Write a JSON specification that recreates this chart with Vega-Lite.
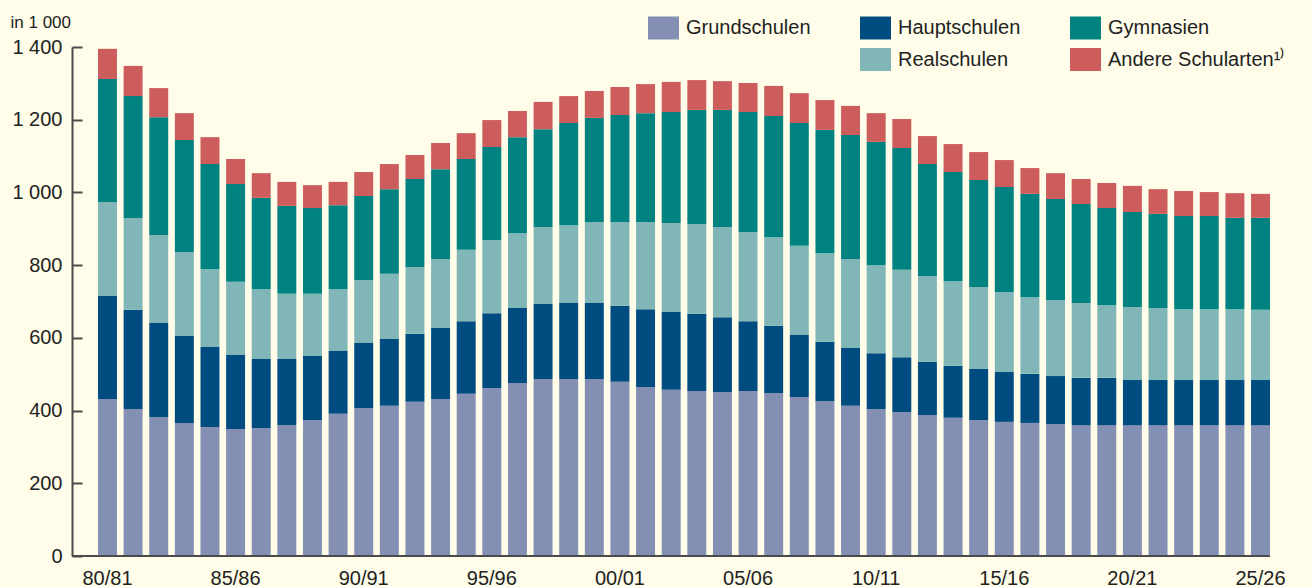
{
  "$schema": "https://vega.github.io/schema/vega-lite/v6.json",
  "width": 1198,
  "height": 509,
  "autosize": {"type": "none"},
  "padding": {"left": 72, "top": 47, "right": 42, "bottom": 31},
  "background": "#FFFDE9",
  "config": {"font": "Liberation Sans", "view": {"stroke": null}},
  "layer": [
    {
      "data": {
        "values": [
          {"Jahr": "80/81", "Grundschulen": 432, "Hauptschulen": 283, "Realschulen": 259, "Gymnasien": 338, "Andere": 83},
          {"Jahr": "81/82", "Grundschulen": 404, "Hauptschulen": 273, "Realschulen": 253, "Gymnasien": 335, "Andere": 83},
          {"Jahr": "82/83", "Grundschulen": 382, "Hauptschulen": 259, "Realschulen": 242, "Gymnasien": 324, "Andere": 80},
          {"Jahr": "83/84", "Grundschulen": 366, "Hauptschulen": 239, "Realschulen": 231, "Gymnasien": 308, "Andere": 74},
          {"Jahr": "84/85", "Grundschulen": 355, "Hauptschulen": 220, "Realschulen": 214, "Gymnasien": 289, "Andere": 74},
          {"Jahr": "85/86", "Grundschulen": 349, "Hauptschulen": 204, "Realschulen": 201, "Gymnasien": 269, "Andere": 69},
          {"Jahr": "86/87", "Grundschulen": 352, "Hauptschulen": 190, "Realschulen": 192, "Gymnasien": 251, "Andere": 68},
          {"Jahr": "87/88", "Grundschulen": 360, "Hauptschulen": 182, "Realschulen": 179, "Gymnasien": 242, "Andere": 66},
          {"Jahr": "88/89", "Grundschulen": 374, "Hauptschulen": 176, "Realschulen": 171, "Gymnasien": 236, "Andere": 63},
          {"Jahr": "89/90", "Grundschulen": 391, "Hauptschulen": 173, "Realschulen": 170, "Gymnasien": 231, "Andere": 64},
          {"Jahr": "90/91", "Grundschulen": 407, "Hauptschulen": 179, "Realschulen": 173, "Gymnasien": 231, "Andere": 66},
          {"Jahr": "91/92", "Grundschulen": 413, "Hauptschulen": 184, "Realschulen": 179, "Gymnasien": 233, "Andere": 69},
          {"Jahr": "92/93", "Grundschulen": 424, "Hauptschulen": 187, "Realschulen": 184, "Gymnasien": 242, "Andere": 66},
          {"Jahr": "93/94", "Grundschulen": 432, "Hauptschulen": 195, "Realschulen": 190, "Gymnasien": 247, "Andere": 72},
          {"Jahr": "94/95", "Grundschulen": 446, "Hauptschulen": 200, "Realschulen": 196, "Gymnasien": 250, "Andere": 71},
          {"Jahr": "95/96", "Grundschulen": 462, "Hauptschulen": 206, "Realschulen": 201, "Gymnasien": 256, "Andere": 74},
          {"Jahr": "96/97", "Grundschulen": 476, "Hauptschulen": 206, "Realschulen": 206, "Gymnasien": 264, "Andere": 72},
          {"Jahr": "97/98", "Grundschulen": 487, "Hauptschulen": 206, "Realschulen": 212, "Gymnasien": 269, "Andere": 75},
          {"Jahr": "98/99", "Grundschulen": 487, "Hauptschulen": 209, "Realschulen": 214, "Gymnasien": 281, "Andere": 74},
          {"Jahr": "99/00", "Grundschulen": 487, "Hauptschulen": 209, "Realschulen": 223, "Gymnasien": 286, "Andere": 74},
          {"Jahr": "00/01", "Grundschulen": 479, "Hauptschulen": 209, "Realschulen": 231, "Gymnasien": 294, "Andere": 77},
          {"Jahr": "01/02", "Grundschulen": 465, "Hauptschulen": 214, "Realschulen": 240, "Gymnasien": 299, "Andere": 80},
          {"Jahr": "02/03", "Grundschulen": 457, "Hauptschulen": 214, "Realschulen": 245, "Gymnasien": 305, "Andere": 83},
          {"Jahr": "03/04", "Grundschulen": 454, "Hauptschulen": 212, "Realschulen": 247, "Gymnasien": 314, "Andere": 82},
          {"Jahr": "04/05", "Grundschulen": 451, "Hauptschulen": 206, "Realschulen": 248, "Gymnasien": 322, "Andere": 79},
          {"Jahr": "05/06", "Grundschulen": 454, "Hauptschulen": 192, "Realschulen": 245, "Gymnasien": 330, "Andere": 80},
          {"Jahr": "06/07", "Grundschulen": 448, "Hauptschulen": 185, "Realschulen": 244, "Gymnasien": 333, "Andere": 83},
          {"Jahr": "07/08", "Grundschulen": 437, "Hauptschulen": 171, "Realschulen": 245, "Gymnasien": 338, "Andere": 82},
          {"Jahr": "08/09", "Grundschulen": 426, "Hauptschulen": 163, "Realschulen": 244, "Gymnasien": 339, "Andere": 82},
          {"Jahr": "09/10", "Grundschulen": 413, "Hauptschulen": 159, "Realschulen": 245, "Gymnasien": 341, "Andere": 80},
          {"Jahr": "10/11", "Grundschulen": 404, "Hauptschulen": 154, "Realschulen": 242, "Gymnasien": 339, "Andere": 79},
          {"Jahr": "11/12", "Grundschulen": 396, "Hauptschulen": 151, "Realschulen": 240, "Gymnasien": 335, "Andere": 80},
          {"Jahr": "12/13", "Grundschulen": 388, "Hauptschulen": 146, "Realschulen": 236, "Gymnasien": 308, "Andere": 77},
          {"Jahr": "13/14", "Grundschulen": 380, "Hauptschulen": 143, "Realschulen": 233, "Gymnasien": 300, "Andere": 77},
          {"Jahr": "14/15", "Grundschulen": 374, "Hauptschulen": 140, "Realschulen": 226, "Gymnasien": 294, "Andere": 77},
          {"Jahr": "15/16", "Grundschulen": 369, "Hauptschulen": 137, "Realschulen": 220, "Gymnasien": 289, "Andere": 74},
          {"Jahr": "16/17", "Grundschulen": 366, "Hauptschulen": 135, "Realschulen": 211, "Gymnasien": 284, "Andere": 71},
          {"Jahr": "17/18", "Grundschulen": 363, "Hauptschulen": 132, "Realschulen": 209, "Gymnasien": 278, "Andere": 71},
          {"Jahr": "18/19", "Grundschulen": 360, "Hauptschulen": 130, "Realschulen": 206, "Gymnasien": 272, "Andere": 69},
          {"Jahr": "19/20", "Grundschulen": 360, "Hauptschulen": 130, "Realschulen": 200, "Gymnasien": 267, "Andere": 69},
          {"Jahr": "20/21", "Grundschulen": 360, "Hauptschulen": 124, "Realschulen": 201, "Gymnasien": 261, "Andere": 72},
          {"Jahr": "21/22", "Grundschulen": 360, "Hauptschulen": 124, "Realschulen": 198, "Gymnasien": 259, "Andere": 68},
          {"Jahr": "22/23", "Grundschulen": 360, "Hauptschulen": 124, "Realschulen": 195, "Gymnasien": 256, "Andere": 69},
          {"Jahr": "23/24", "Grundschulen": 360, "Hauptschulen": 124, "Realschulen": 195, "Gymnasien": 256, "Andere": 66},
          {"Jahr": "24/25", "Grundschulen": 360, "Hauptschulen": 124, "Realschulen": 195, "Gymnasien": 251, "Andere": 68},
          {"Jahr": "25/26", "Grundschulen": 360, "Hauptschulen": 124, "Realschulen": 193, "Gymnasien": 253, "Andere": 66}
        ]
      },
      "transform": [
        {"fold": ["Grundschulen", "Hauptschulen", "Realschulen", "Gymnasien", "Andere"], "as": ["Schulart", "Anzahl"]},
        {
          "lookup": "Schulart",
          "from": {
            "data": {
              "values": [
                {"Schulart": "Grundschulen", "Rang": 1},
                {"Schulart": "Hauptschulen", "Rang": 2},
                {"Schulart": "Realschulen", "Rang": 3},
                {"Schulart": "Gymnasien", "Rang": 4},
                {"Schulart": "Andere", "Rang": 5}
              ]
            },
            "key": "Schulart",
            "fields": ["Rang"]
          }
        }
      ],
      "mark": {"type": "bar"},
      "encoding": {
        "x": {
          "field": "Jahr",
          "type": "ordinal",
          "sort": null,
          "scale": {"range": [26, 1198], "paddingInner": 0.26, "paddingOuter": 0},
          "axis": {
            "title": null,
            "domain": false,
            "ticks": false,
            "labelAngle": 0,
            "labelFontSize": 20,
            "labelColor": "#222222",
            "labelPadding": 12,
            "values": ["80/81", "85/86", "90/91", "95/96", "00/01", "05/06", "10/11", "15/16", "20/21", "25/26"]
          }
        },
        "y": {
          "field": "Anzahl",
          "type": "quantitative",
          "stack": "zero",
          "scale": {"domain": [0, 1400], "nice": false},
          "axis": {
            "values": [0, 200, 400, 600, 800, 1000, 1200, 1400],
            "labelExpr": "replace(format(datum.value, ','), ',', ' ')",
            "grid": false,
            "domainColor": "#4a4a4a",
            "domainWidth": 2,
            "tickColor": "#4a4a4a",
            "tickWidth": 2,
            "tickSize": -10,
            "labelPadding": 20,
            "labelFontSize": 20,
            "labelColor": "#222222",
            "title": "in 1 000",
            "titleAngle": 0,
            "titleAlign": "left",
            "titleBaseline": "alphabetic",
            "titleX": -62,
            "titleY": -20,
            "titleFontSize": 17,
            "titleFontWeight": "normal",
            "titleColor": "#222222"
          }
        },
        "order": {"field": "Rang", "type": "quantitative", "sort": "ascending"},
        "color": {
          "field": "Schulart",
          "type": "nominal",
          "scale": {
            "domain": ["Grundschulen", "Hauptschulen", "Gymnasien", "_", "Realschulen", "Andere"],
            "range": ["#838FB3", "#004C80", "#008280", "transparent", "#80B6B8", "#CD5C5C"]
          },
          "legend": {
            "orient": "none",
            "direction": "horizontal",
            "legendX": 576,
            "legendY": -35,
            "columns": 3,
            "title": null,
            "padding": 0,
            "symbolType": "M-1,-0.742H1V0.742H-1Z",
            "symbolSize": 961,
            "symbolStrokeWidth": 0,
            "symbolOpacity": 1,
            "labelFontSize": 20,
            "labelColor": "#222222",
            "labelOffset": 7,
            "labelLimit": 400,
            "columnPadding": 49,
            "rowPadding": 4,
            "labelExpr": "datum.label == 'Andere' ? 'Andere Schularten¹⁾' : (datum.label == '_' ? '' : datum.label)"
          }
        }
      }
    },
    {
      "data": {"values": [{}]},
      "mark": {"type": "rule", "color": "#4a4a4a", "strokeWidth": 2},
      "encoding": {"y": {"datum": 0}}
    }
  ]
}
